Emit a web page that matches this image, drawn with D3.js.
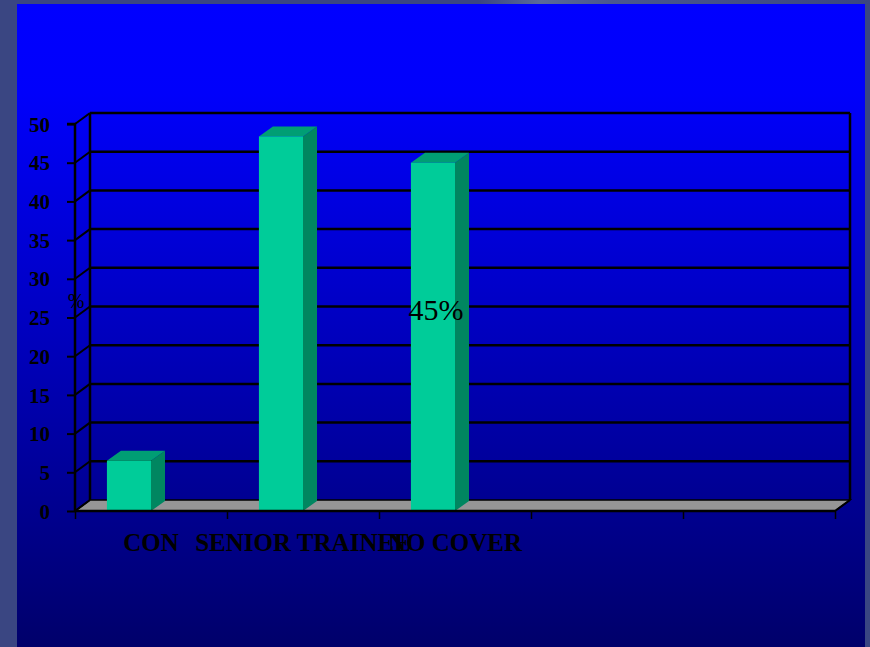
<!DOCTYPE html>
<html>
<head>
<meta charset="utf-8">
<script src="https://cdn.jsdelivr.net/npm/d3@7"></script>
<style>
html,body{margin:0;padding:0;background:#3a4682;}
svg{display:block;}
</style>
</head>
<body>
<svg id="chart" width="870" height="647"></svg>
<script>
// ---- data ----
const categories = ["CON", "SENIOR TRAINEE", "NO COVER", "", ""];
const values = [6.5, 48.4, 45, null, null];
const yTicks = [0, 5, 10, 15, 20, 25, 30, 35, 40, 45, 50];
const dataLabels = [null, null, "45%", null, null];
const yAxisTitle = "%";

const svg = d3.select("#chart");
const W = 870, H = 647;

// background frame + gradient panel
const defs = svg.append("defs");
const grad = defs.append("linearGradient").attr("id", "bg").attr("x1", 0).attr("y1", 0).attr("x2", 0).attr("y2", 1);
grad.append("stop").attr("offset", "0%").attr("stop-color", "#0000ff");
grad.append("stop").attr("offset", "14%").attr("stop-color", "#0000fb");
grad.append("stop").attr("offset", "55%").attr("stop-color", "#0000b8");
grad.append("stop").attr("offset", "100%").attr("stop-color", "#00006a");

const topGrad = defs.append("linearGradient").attr("id", "topb").attr("x1", 0).attr("y1", 0).attr("x2", 1).attr("y2", 0);
topGrad.append("stop").attr("offset", "0%").attr("stop-color", "#3a4682");
topGrad.append("stop").attr("offset", "55%").attr("stop-color", "#3a4682");
topGrad.append("stop").attr("offset", "62%").attr("stop-color", "#5a6a9a");
topGrad.append("stop").attr("offset", "70%").attr("stop-color", "#4a5890");
topGrad.append("stop").attr("offset", "100%").attr("stop-color", "#3a4682");

svg.append("rect").attr("width", W).attr("height", H).attr("fill", "#3a4682");
svg.append("rect").attr("width", W).attr("height", 4).attr("fill", "url(#topb)");
svg.append("rect").attr("x", 17).attr("y", 4).attr("width", 848).attr("height", H - 4).attr("fill", "url(#bg)");

// ---- scales ----
const DX = 15, DY = 11; // 3D depth offset
const x = d3.scaleBand().domain(d3.range(categories.length)).range([75, 835]).paddingInner(0).paddingOuter(0);
const y = d3.scaleLinear().domain([0, 50]).range([511, 124]);
const bw = x.bandwidth();
const barW = bw * 0.29;
const barOff = bw * 0.21;

const g = svg.append("g");

// floor
const x0 = x.range()[0], x1 = x.range()[1];
g.append("path")
  .attr("d", `M${x0},${y(0)} L${x0 + DX},${y(0) - DY} L${x1 + DX},${y(0) - DY} L${x1},${y(0)} Z`)
  .attr("fill", "#969696").attr("stroke", "#000").attr("stroke-width", 1.5);

// gridlines (back wall + left wall diagonals)
const gridVals = yTicks.filter(v => v > 0);
g.selectAll("line.grid").data(gridVals).enter().append("line")
  .attr("x1", x0 + DX).attr("x2", x1 + DX)
  .attr("y1", d => y(d) - DY).attr("y2", d => y(d) - DY)
  .attr("stroke", "#000").attr("stroke-width", 2.5);
g.selectAll("line.diag").data(gridVals).enter().append("line")
  .attr("x1", x0).attr("x2", x0 + DX)
  .attr("y1", d => y(d)).attr("y2", d => y(d) - DY)
  .attr("stroke", "#000").attr("stroke-width", 2);
// back wall verticals
g.append("line").attr("x1", x0 + DX).attr("x2", x0 + DX).attr("y1", y(50) - DY).attr("y2", y(0) - DY)
  .attr("stroke", "#000").attr("stroke-width", 2.5);
g.append("line").attr("x1", x1 + DX).attr("x2", x1 + DX).attr("y1", y(50) - DY).attr("y2", y(0) - DY)
  .attr("stroke", "#000").attr("stroke-width", 2.5);
// floor back-left diagonal
g.append("line").attr("x1", x0).attr("x2", x0 + DX).attr("y1", y(0)).attr("y2", y(0) - DY)
  .attr("stroke", "#000").attr("stroke-width", 2);

// bars
const barData = categories.map((c, i) => ({ i, c, v: values[i], label: dataLabels[i] })).filter(d => d.v != null);
const bars = g.selectAll("g.bar").data(barData).enter().append("g");
bars.append("path") // side
  .attr("d", d => {
    const bx = x(d.i) + barOff + barW, yt = y(d.v), yb = y(0);
    return `M${bx},${yb} L${bx + DX - 1},${yb - DY + 1} L${bx + DX - 1},${yt - DY + 1} L${bx},${yt} Z`;
  })
  .attr("fill", "#008660");
bars.append("path") // top
  .attr("d", d => {
    const bx = x(d.i) + barOff, yt = y(d.v);
    return `M${bx},${yt} L${bx + DX - 1},${yt - DY + 1} L${bx + barW + DX - 1},${yt - DY + 1} L${bx + barW},${yt} Z`;
  })
  .attr("fill", "#009e74");
bars.append("rect") // front
  .attr("x", d => x(d.i) + barOff).attr("y", d => y(d.v))
  .attr("width", barW).attr("height", d => y(0) - y(d.v) - 1)
  .attr("fill", "#00cc99");

// data label
bars.filter(d => d.label).append("text")
  .attr("x", d => x(d.i) + barOff + barW / 2 + 3)
  .attr("y", d => y(26))
  .attr("text-anchor", "middle").attr("dominant-baseline", "central")
  .attr("font-family", "'Liberation Serif','Times New Roman',serif")
  .attr("font-size", 30).attr("fill", "#000")
  .text(d => d.label);

// front baseline
g.append("line").attr("x1", x0).attr("x2", x1).attr("y1", y(0)).attr("y2", y(0))
  .attr("stroke", "#000").attr("stroke-width", 2.5);
// floor right diagonal
g.append("line").attr("x1", x1).attr("x2", x1 + DX).attr("y1", y(0)).attr("y2", y(0) - DY)
  .attr("stroke", "#000").attr("stroke-width", 2);

// y axis
const yAxis = d3.axisLeft(y).tickValues(yTicks).tickSize(8).tickPadding(17).tickFormat(d3.format("d"));
const ya = svg.append("g").attr("transform", `translate(${x0},0)`).call(yAxis);
ya.select(".domain").attr("stroke", "#000").attr("stroke-width", 2.5).attr("d", `M-8,${y(50)}H0V${y(0)}`);
ya.selectAll(".tick line").attr("stroke", "#000").attr("stroke-width", 2);
ya.selectAll(".tick text")
  .attr("font-family", "'Liberation Serif','Times New Roman',serif")
  .attr("font-weight", "bold").attr("font-size", 21).attr("fill", "#000").attr("dy", "0.34em");

// x axis boundary ticks
const xb = d3.scaleLinear().domain([0, categories.length]).range([x0, x1]);
const xAxis = d3.axisBottom(xb).ticks(categories.length).tickSize(8).tickFormat("");
const xa = svg.append("g").attr("transform", `translate(0,${y(0)})`).call(xAxis);
xa.select(".domain").remove();
xa.selectAll(".tick line").attr("stroke", "#000").attr("stroke-width", 1.5);

// category labels
svg.selectAll("text.cat").data(categories.map((c, i) => ({ c, i })).filter(d => d.c)).enter().append("text")
  .attr("x", d => x(d.i) + bw / 2)
  .attr("y", 551)
  .attr("text-anchor", "middle")
  .attr("font-family", "'Liberation Serif','Times New Roman',serif")
  .attr("font-weight", "bold").attr("font-size", 25).attr("fill", "#000")
  .text(d => d.c);

// y axis title
svg.append("text").attr("x", 76).attr("y", 301)
  .attr("text-anchor", "middle").attr("dominant-baseline", "central")
  .attr("font-family", "'Liberation Serif','Times New Roman',serif")
  .attr("font-size", 20).attr("fill", "#000")
  .text(yAxisTitle);
</script>
</body>
</html>
